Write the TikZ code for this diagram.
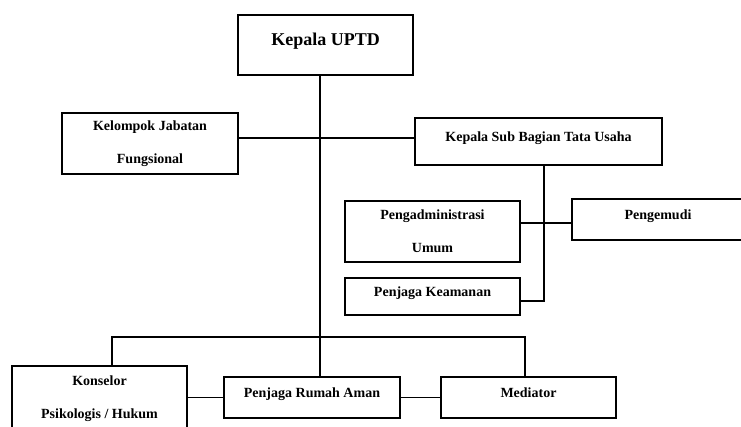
\documentclass[tikz,border=0pt]{standalone}
\usepackage{fontspec}
\setmainfont{Liberation Serif}
\usetikzlibrary{calc}

\begin{document}
\begin{tikzpicture}[x=1pt, y=-1pt,
    unit/.style={draw=black, line width=1.1pt, inner sep=0pt, align=center,
        font=\bfseries\fontsize{14}{33}\selectfont},
    oneline/.style={unit, text height=10pt, text depth=10pt},
    link/.style={draw=black, line width=1.1pt}]
    % Fix the page to the size of the chart
    \useasboundingbox (0,0) rectangle (741,426);
    \clip (0,0) rectangle (741,426);

    % Head of the unit
    \node[oneline, font=\bfseries\fontsize{18}{22}\selectfont, text height=13pt, text depth=13pt,
        minimum width=175pt, minimum height=60pt] (uptd) at (325.5,45) {Kepala UPTD};

    % Second level
    \node[unit, minimum width=176pt, minimum height=61pt] (kjf) at (150,143.5) {Kelompok Jabatan\\Fungsional};
    \node[oneline, minimum width=247pt, minimum height=47pt] (ksb) at (538.5,141.5) {Kepala Sub Bagian Tata Usaha};

    % Staff under the sub section
    \node[unit, minimum width=175pt, minimum height=61pt] (adm) at (432.5,231.5) {Pengadministrasi\\Umum};
    \node[oneline, minimum width=172pt, minimum height=41pt] (drv) at (658,219.5) {Pengemudi};
    \node[oneline, minimum width=175pt, minimum height=37pt] (pk) at (432.5,296.5) {Penjaga Keamanan};

    % Bottom row
    \node[unit, minimum width=175pt, minimum height=66pt] (kph) at (99.5,399) {Konselor\\Psikologis / Hukum};
    \node[oneline, minimum width=176pt, minimum height=41pt] (pra) at (312,397.5) {Penjaga Rumah Aman};
    \node[oneline, minimum width=175pt, minimum height=41pt] (med) at (528.5,397.5) {Mediator};

    % Points where the lines turn
    \coordinate (spine) at (320,138);
    \coordinate (sub) at (544,301);
    \coordinate (sub2) at (544,223);
    \coordinate (busL) at (112,337);
    \coordinate (busR) at (525,337);

    % Main line and branches
    \draw[link] (uptd.south -| spine) -- (pra.north -| spine);
    \draw[link] (kjf.east |- spine) -- (ksb.west |- spine);
    \draw[link] (ksb.south -| sub) -- (sub) -- (pk.east |- sub);
    \draw[link] (adm.east |- sub2) -- (drv.west |- sub2);
    \draw[link] (kph.north -| busL) -- (busL) -- (busR) -- (med.north -| busR);
    \draw[link] (kph.east |- pra.west) -- (pra.west);
    \draw[link] (pra.east) -- (med.west);

\end{tikzpicture}
\end{document}
